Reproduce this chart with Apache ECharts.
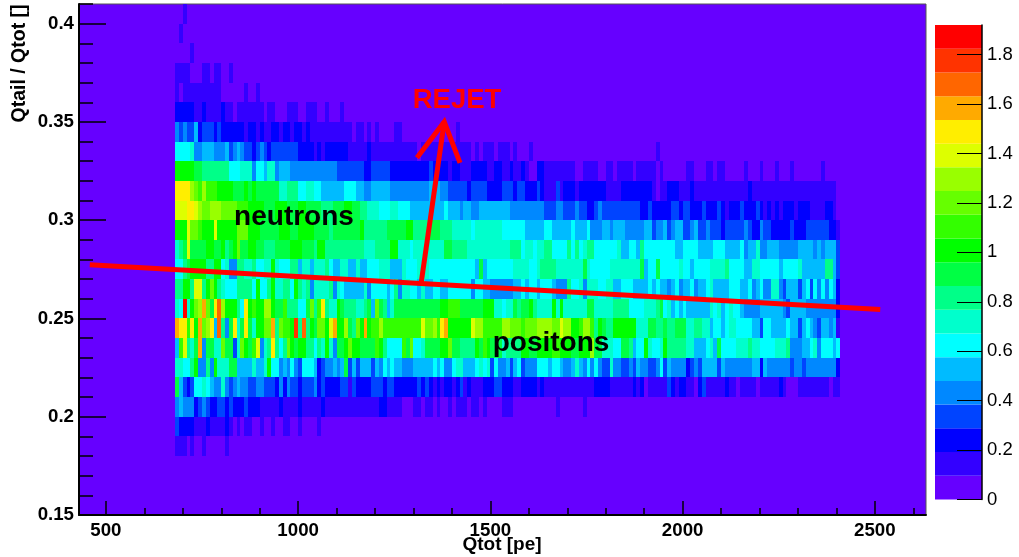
<!DOCTYPE html>
<html><head><meta charset="utf-8">
<script src="https://cdn.jsdelivr.net/npm/echarts@6/dist/echarts.min.js"></script>
<style>html,body{margin:0;padding:0;background:#fff}#c{width:1019px;height:557px}</style>
</head><body><div id="c"></div>
<script>
// Each row: pairs of [colour level, number of 10 pe bins], read by eye, starting at Qtot = 680
const row_040=[[0,2],[1,1]];
const row_039=[[0,1],[1,1]];
const row_038=[[0,4],[1,1]];
const row_037=[[1,4],[0,3],[1,2],[0,1],[1,2],[0,2],[1,1]];
const row_036=[[1,1],[0,1],[1,10],[0,6],[1,1],[0,2],[1,1]];
const row_035=[[2,5],[1,2],[2,1],[1,4],[2,1],[1,2],[0,1],[1,7],[0,1],[1,2],[0,3],[1,3],[0,2],[1,3],[0,2],[1,1],[0,3],[1,1]];
const row_034=[[4,1],[3,1],[4,1],[3,2],[5,1],[2,1],[3,3],[2,1],[3,1],[2,6],[1,1],[2,2],[1,1],[2,1],[1,2],[2,2],[1,1],[2,2],[1,1],[2,2],[1,1],[2,1],[1,11],[0,1],[1,2],[0,1],[1,1],[0,1],[1,1],[0,4],[1,2],[0,14],[1,1]];
const row_033=[[6,4],[7,1],[4,2],[5,3],[4,3],[5,1],[3,1],[4,1],[5,1],[4,1],[3,2],[2,1],[3,1],[4,1],[3,1],[2,1],[3,7],[2,4],[1,1],[2,1],[1,1],[2,5],[2,1],[1,5],[2,1],[1,12],[0,1],[1,13],[0,1],[1,1],[0,1],[1,3],[0,1],[1,3],[0,1],[1,1],[0,3],[1,1],[0,32],[1,1]];
const row_032=[[10,5],[9,2],[8,7],[6,3],[7,3],[4,1],[6,2],[5,1],[7,2],[4,1],[5,3],[4,12],[3,2],[3,5],[2,2],[3,5],[2,10],[3,1],[2,4],[1,1],[2,2],[1,3],[2,4],[1,2],[2,2],
 [1,2],[2,1],[1,2],[2,1],[1,1],[0,2],[2,2],[1,8],[0,2],[1,4],[0,2],[1,2],[0,1],[1,4],[0,1],[1,5],[0,1],[1,1],[0,6],[1,2],[0,3],[1,2],[0,1],[1,2],[0,5],[1,1],[0,3],[1,1],[0,3],[1,1],[0,3],[1,1],[0,7],[1,1]];
const row_031=[[15,4],[13,1],[12,1],[11,1],[13,1],[11,3],[10,4],[9,3],[10,1],[9,1],[10,1],[9,6],[7,2],[8,3],[6,2],[7,2],[6,2],[5,6],[6,3],[5,2],[4,2],[5,5],[4,7],[4,3],[5,3],[4,2],[3,5],[2,1],[3,4],[2,4],
 [3,3],[2,1],[3,2],[2,3],[3,1],[2,1],[1,3],[3,1],[1,1],[2,3],[1,1],[2,7],[1,4],[2,8],[1,1],[0,1],[1,2],[2,3],[1,3],[2,1],[1,14],[2,1],[1,22]];
const row_030=[[14,3],[15,2],[14,1],[13,1],[12,2],[13,3],[12,4],[11,3],[10,4],[9,3],[10,3],[9,3],[10,2],[9,4],[8,3],[9,3],[10,2],[9,2],[8,2],[7,3],[6,3],[7,2],[6,3],[5,5],[5,4],[6,1],[5,3],[4,1],[5,2],[4,2],[5,2],[5,4],
 [5,2],[4,9],[3,3],[4,2],[3,3],[4,1],[3,2],[2,2],[3,1],[4,1],[3,10],[2,2],[3,1],[2,5],[3,2],[2,1],[3,2],[2,3],[3,1],[2,3],[3,1],[2,1],[1,1],[2,3],[3,1],[2,3],[3,1],[2,1],[1,1],[2,1],[1,1],[2,1],[1,1],[2,3],[1,1],[2,3],[1,4],[2,2],[1,1]];
const row_029=[[10,3],[14,1],[12,2],[11,1],[10,3],[14,1],[10,5],[12,3],[10,3],[9,5],[10,3],[9,2],[10,4],[9,4],[8,1],[9,7],[10,1],[8,6],[9,5],[10,2],[8,4],[9,3],[8,3],[7,5],[6,1],[7,4],[7,3],
 [6,3],[6,3],[5,5],[6,2],[5,5],[6,1],[5,3],[6,1],[4,3],[5,2],[4,1],[5,3],[4,5],[5,2],[3,1],[4,2],[5,1],[3,1],[4,1],[5,2],[3,2],[4,1],[5,1],[3,2],[4,1],[3,3],[2,1],[3,5],[4,1],[3,1],[2,2],[4,1],[3,2],[2,5],[3,1],[2,3],[3,6],[2,2],[1,1]];
const row_028=[[7,1],[8,1],[9,1],[14,1],[9,4],[10,2],[9,2],[10,1],[8,1],[9,1],[10,1],[12,1],[9,2],[10,2],[9,2],[8,3],[9,4],[10,3],[9,3],[8,1],[10,2],[8,5],[8,5],[7,3],[8,4],[10,2],[7,3],[6,1],[7,4],[7,4],[9,2],[8,4],[7,5],[7,2],[7,2],
 [7,2],[8,3],[6,1],[7,2],[6,1],[7,2],[8,2],[6,4],[8,1],[6,1],[8,1],[6,1],[7,1],[8,2],[6,6],[7,1],[5,2],[6,2],[5,1],[8,1],[6,6],[6,2],[5,2],[6,4],[5,4],[6,1],[6,2],[5,4],[6,1],[4,1],[5,2],[7,1],[4,2],[5,3],[4,2],[4,3],[5,2],[5,2],[4,1],[5,1],[4,1],[5,3],[3,1]];
const row_027=[[6,2],[8,1],[9,1],[10,4],[8,2],[10,2],[6,1],[7,1],[4,2],[8,2],[7,2],[8,1],[6,2],[7,2],[10,1],[7,1],[6,3],[8,2],[5,1],[7,2],[5,1],[7,3],[8,1],[6,1],[5,2],[7,2],[5,2],[7,1],[5,2],[6,3],[7,3],[5,3],[7,1],[6,3],[7,3],[6,12],[5,1],[9,1],[5,1],[6,3],[6,1],
 [6,3],[7,1],[7,3],[6,2],[7,1],[8,4],[7,7],[9,1],[7,1],[6,3],[6,2],[7,2],[7,4],[7,2],[9,1],[5,1],[6,2],[9,1],[6,4],[6,1],[7,1],[6,2],[5,1],[6,4],[7,2],[7,2],[8,1],[6,2],[6,2],[5,2],[7,2],[6,5],[5,1],[6,4],[7,1],[5,1],[5,5],[8,2],[5,1],[3,1]];
const row_026=[[8,2],[10,2],[8,1],[14,2],[8,1],[10,1],[12,1],[10,1],[8,1],[7,1],[6,1],[6,2],[8,4],[6,1],[10,1],[6,2],[8,1],[10,1],[7,2],[8,2],[6,1],[10,1],[8,1],[7,1],[8,1],[4,1],[7,3],[7,1],[8,1],[4,1],[7,1],[6,1],[5,1],[5,4],[7,1],[4,1],[6,4],[5,1],[6,1],[8,1],[4,1],[7,2],[6,2],[5,1],[7,1],[5,2],[6,2],[5,2],[6,3],[6,3],[4,1],[6,2],[5,2],[4,3],
 [4,3],[5,2],[6,1],[5,1],[6,2],[5,1],[6,1],[6,2],[5,1],[4,1],[4,2],[8,1],[6,2],[7,1],[4,1],[7,3],[6,2],[7,2],[5,2],[6,3],[5,4],[6,1],[5,1],[6,1],[5,2],[4,1],[5,1],[6,1],[4,1],[5,2],[6,1],[4,1],[5,2],[6,1],[7,1],[5,1],[5,3],[6,3],[5,2],[6,1],[4,1],[5,1],[6,1],[4,2],[7,2],[4,1],[3,1],[5,3],[3,1],[5,1],[6,1],[3,1],[6,1],[4,1],[6,1],[4,1],[6,1],[5,1],[2,1]];
const row_025=[[7,1],[6,1],[19,1],[7,1],[10,1],[12,1],[13,1],[16,1],[12,1],[9,1],[15,1],[17,1],[13,1],[10,3],[8,1],[6,1],[15,1],[10,1],[11,1],[10,2],[13,2],[10,1],[9,2],[11,1],[8,3],[6,2],[9,1],[12,1],[8,1],[11,1],[15,1],[8,1],[7,2],[10,1],[9,1],[8,3],[7,2],[8,1],[9,1],[5,1],[12,1],[9,1],[8,1],[5,1],[7,1],[9,5],[9,3],[9,4],[10,2],[11,3],[9,4],[9,2],[10,3],[7,2],
 [6,1],[7,2],[9,1],[8,1],[9,2],[10,1],[8,1],[7,4],[10,1],[7,1],[10,1],[7,1],[7,5],[9,2],[7,5],[8,4],[6,4],[7,3],[8,1],[9,1],[6,1],[7,1],[5,1],[6,1],[5,1],[6,1],[5,6],[7,1],[6,1],[7,1],[5,1],[6,1],[7,1],[6,2],[5,1],[4,4],[5,1],[5,5],[4,1],[3,1],[5,4],[4,1],[4,6],[4,1],[2,1]];
const row_024=[[16,1],[15,2],[11,1],[15,1],[10,1],[16,1],[12,1],[13,1],[15,1],[5,1],[17,1],[8,1],[4,1],[9,1],[15,1],[7,1],[9,1],[15,1],[9,1],[7,1],[10,2],[12,2],[16,1],[8,1],[12,1],[11,2],[10,1],[18,1],[8,1],[17,1],[8,1],[10,1],[9,1],[12,2],[10,1],[14,1],[16,1],[10,2],[13,1],[9,1],[8,1],[12,1],[10,1],[16,1],[10,1],[11,2],[13,1],[11,3],[11,1],[11,6],[14,1],[12,2],[13,1],[11,1],[15,1],[16,1],[10,3],[10,3],[14,1],[13,2],[11,3],[11,2],
 [13,2],[12,3],[11,1],[12,2],[12,1],[13,4],[12,2],[14,1],[13,2],[10,2],[11,1],[13,2],[11,1],[8,1],[10,1],[9,1],[8,2],[10,2],[10,3],[10,1],[7,3],[9,2],[8,2],[9,1],[8,2],[9,3],[7,2],[8,2],[7,2],[5,1],[6,2],[5,1],[6,1],[7,2],[6,1],[6,3],[5,2],[3,1],[6,2],[5,2],[5,2],[6,1],[5,2],[3,1],[5,1],[6,1],[5,1],[4,1],[3,1],[5,2],[4,1],[5,1],[1,1]];
const row_023=[[5,1],[11,1],[14,1],[8,1],[7,1],[9,1],[16,1],[4,1],[9,2],[7,2],[12,1],[9,2],[3,1],[7,1],[12,1],[10,1],[9,1],[11,1],[14,1],[4,1],[7,1],[8,1],[15,1],[8,1],[6,1],[8,1],[12,1],[10,1],[9,1],[10,2],[8,2],[6,1],[8,1],[7,1],[10,1],[7,1],[4,1],[9,2],[10,1],[12,1],[10,2],[9,2],[9,2],[11,1],[10,1],[8,1],[6,2],[6,2],[11,1],[9,1],[12,1],[6,2],[7,1],[9,4],[10,2],[12,1],[9,2],[8,3],[8,1],[10,1],[9,1],[11,1],[10,1],[9,1],[9,2],
 [7,1],[8,4],[10,2],[9,2],[10,4],[11,2],[10,3],[9,2],[10,3],[13,1],[9,2],[7,3],[6,2],[9,2],[8,1],[5,1],[6,2],[10,1],[7,1],[6,2],[7,1],[10,1],[8,2],[8,3],[7,2],[5,1],[5,2],[6,1],[7,1],[5,1],[9,1],[6,2],[6,2],[7,2],[7,1],[8,1],[7,2],[6,2],[6,2],[7,2],[7,1],[8,1],[4,2],[4,1],[5,2],[6,1],[7,1],[4,1],[6,3],[5,1],[6,1]];
const row_022=[[7,2],[6,2],[8,1],[10,1],[4,2],[8,1],[4,1],[10,1],[7,3],[9,2],[5,4],[7,1],[5,2],[7,1],[10,1],[6,2],[4,1],[5,1],[4,1],[6,1],[4,1],[3,1],[6,1],[6,2],[5,1],[2,1],[3,1],[4,2],[5,1],[4,1],[5,1],[9,1],[3,1],[5,1],[3,1],[5,1],[5,2],[3,1],[5,1],[4,1],[6,1],[5,1],[6,1],[5,2],[4,2],[4,1],[5,5],[6,1],[5,1],[6,1],[4,2],[6,1],[7,2],[5,2],[5,1],[6,1],[7,1],[6,1],[7,1],[3,1],[6,1],[4,1],
 [4,1],[5,1],[3,1],[5,1],[6,1],[3,1],[4,3],[6,3],[5,1],[6,2],[5,1],[4,2],[5,1],[7,1],[5,1],[4,1],[6,1],[4,1],[6,1],[4,1],[3,2],[7,1],[4,2],[3,2],[4,1],[3,1],[5,1],[4,2],[3,2],[4,1],[6,1],[3,1],[5,1],[4,1],[4,3],[2,1],[3,1],[4,1],[3,1],[5,2],[5,2],[3,1],[5,1],[4,2],[4,5],[5,2],[2,1],[5,1],[4,1],[4,5],[3,1],[4,2],[3,1],[4,3],[4,3],[4,2],[2,1]];
const row_021=[[9,1],[5,1],[3,1],[2,1],[3,1],[6,2],[7,1],[6,1],[5,1],[4,2],[7,1],[4,1],[3,1],[4,1],[5,1],[4,2],[3,2],[4,2],[3,3],[2,1],[4,1],[2,1],[4,1],[3,2],[2,1],[3,3],[4,1],[2,1],[3,1],[2,4],[3,2],[1,1],[3,1],[2,4],[3,3],[2,1],[3,2],[2,6],[3,1],[2,1],[3,1],[2,1],[1,1],[2,1],[1,1],[2,2],[1,1],[2,1],[3,1],[1,1],[2,1],[1,3],[2,3],[3,2],
 [2,3],[1,2],[2,4],[1,1],[2,1],[1,6],[1,3],[1,1],[1,3],[2,4],[1,6],[2,1],[1,1],[2,1],[0,1],[1,5],[3,1],[2,1],[1,1],[2,2],[1,2],[0,1],[2,1],[3,1],[1,5],[2,1],[1,2],[0,1],[1,4],[0,1],[1,5],[2,1],[1,1],[0,3],[1,8],[0,1],[1,2]];
const row_020=[[4,1],[5,1],[4,3],[2,1],[3,1],[4,1],[3,1],[2,2],[3,2],[2,1],[3,1],[2,3],[3,1],[2,3],[1,3],[1,2],[2,1],[1,4],[2,1],[1,5],[2,1],[1,14],[2,2],[1,4],[0,3],[1,2],[0,1],[1,2],[0,1],[1,1],[0,2],[1,1],[0,1],[1,3],[0,1],[1,2],[0,1],[1,1],[0,4],
 [1,3],[0,11],[1,1],[0,6],[1,1]];
const row_019=[[3,1],[2,4],[1,2],[1,1],[2,1],[1,1],[1,3],[2,1],[1,1],[0,1],[1,1],[0,1],[1,2],[0,2],[1,1],[0,2],[1,1],[0,2],[1,2],[0,2],[1,1],[0,4],[1,1]];
const row_018=[[1,3],[0,1],[1,1],[0,2],[1,1],[0,5],[1,1]];

const rowsTopDown=[row_040,row_039,row_038,row_037,row_036,row_035,row_034,row_033,row_032,row_031,row_030,row_029,row_028,row_027,row_026,row_025,row_024,row_023,row_022,row_021,row_020,row_019,row_018];
const palette=['#6600ff','#3300ff','#0000ff','#0044ff','#0088ff','#00bbff','#00ffff','#00ffcc','#00ff88','#00ff44','#00ff00','#33ff00','#66ff00','#99ff00','#ddff00','#ffee00','#ffaa00','#ff6600','#ff3300','#ff0000'];
const levelStep=0.096;
const xMajor=[500,1000,1500,2000,2500];
const xMinor=[500,600,700,800,900,1000,1100,1200,1300,1400,1500,1600,1700,1800,1900,2000,2100,2200,2300,2400,2500,2600];
const yMajor=[0.15,0.2,0.25,0.3,0.35,0.4];
const yMinor=[0.16,0.17,0.18,0.19,0.21,0.22,0.23,0.24,0.26,0.27,0.28,0.29,0.31,0.32,0.33,0.34,0.36,0.37,0.38,0.39,0.41];
const zTicks=[0,0.2,0.4,0.6,0.8,1,1.2,1.4,1.6,1.8];
const cutLine=[[458,0.2773],[2514,0.2546]];
const arrowShaft=[[1320,0.2681],[1380,0.3501]];
const arrowHead=[[1309,0.3318],[1380,0.3501],[1421,0.3292]];

const cells=[];
rowsTopDown.forEach((runs,r)=>{
  const y=0.40-r*0.01; let c=0;
  runs.forEach(([lvl,n])=>{
    for(let i=0;i<n;i++,c++){ if(lvl>0&&c<173) cells.push([680+c*10,y,(lvl+0.5)*levelStep]); }
  });
});
const font='"Liberation Sans",Arial,sans-serif';
const plain=(v)=>String(v);
const lbl={color:'#000',fontFamily:font,fontWeight:'bold',fontSize:18.7,formatter:plain};
const redLine=(d)=>({type:'line',data:d,xAxisIndex:0,yAxisIndex:0,symbol:'none',silent:true,z:5,lineStyle:{color:'#ff0000',width:5,cap:'butt',join:'miter'}});
const option={
  animation:false,
  grid:[
    {left:79,right:93,top:4,bottom:42,show:true,backgroundColor:'#6600ff',borderColor:'#555',borderWidth:1},
    {left:935,right:37,top:25,bottom:57.5}
  ],
  xAxis:[
    {gridIndex:0,type:'value',min:430,max:2633,position:'bottom',splitLine:{show:false},
      axisLine:{show:true,onZero:false,lineStyle:{color:'#000',width:2}},
      axisTick:{show:true,inside:true,length:14,customValues:xMajor,lineStyle:{color:'#000',width:1.5}},
      axisLabel:{...lbl,margin:6,customValues:xMajor}},
    {gridIndex:0,type:'value',min:430,max:2633,position:'bottom',splitLine:{show:false},
      axisLine:{show:false},
      axisTick:{show:true,inside:true,length:7,customValues:xMinor,lineStyle:{color:'#000',width:1.5}},
      axisLabel:{show:false}},
    {gridIndex:1,type:'category',data:['z'],show:false}
  ],
  yAxis:[
    {gridIndex:0,type:'value',min:0.15,max:0.41,position:'left',splitLine:{show:false},
      axisLine:{show:true,onZero:false,lineStyle:{color:'#000',width:2}},
      axisTick:{show:true,inside:true,length:27,customValues:yMajor,lineStyle:{color:'#000',width:1.5}},
      axisLabel:{...lbl,margin:5,padding:[5,0,0,0],customValues:yMajor}},
    {gridIndex:0,type:'value',min:0.15,max:0.41,position:'left',splitLine:{show:false},
      axisLine:{show:false},
      axisTick:{show:true,inside:true,length:14,customValues:yMinor,lineStyle:{color:'#000',width:1.5}},
      axisLabel:{show:false}},
    {gridIndex:1,type:'value',min:0,max:1.92,position:'right',splitLine:{show:false},z:5,
      axisLine:{show:true,onZero:false,lineStyle:{color:'#000',width:1.5}},
      axisTick:{show:true,inside:true,length:25,customValues:zTicks,lineStyle:{color:'#000',width:1}},
      axisLabel:{color:'#000',fontFamily:font,fontSize:18.5,margin:5,padding:[7,0,0,0],formatter:plain,customValues:zTicks}}
  ],
  series:[
    {type:'custom',xAxisIndex:0,yAxisIndex:0,data:cells,encode:{x:0,y:1},silent:true,z:1,
     renderItem:(params,api)=>{
       const x=api.value(0),y=api.value(1),v=api.value(2);
       const a=api.coord([x,y]),b=api.coord([x+10,y+0.01]);
       const lvl=Math.min(19,Math.floor(v/levelStep));
       const l=Math.round(a[0]),r=Math.round(b[0]),t=Math.round(b[1]),bt=Math.round(a[1]);
       return {type:'rect',shape:{x:l,y:t,width:r-l,height:bt-t},style:{fill:palette[lvl]}};
     }},
    redLine(cutLine),redLine(arrowShaft),redLine(arrowHead),
    ...palette.map((col)=>({type:'bar',xAxisIndex:2,yAxisIndex:2,stack:'z',barWidth:'100%',silent:true,data:[levelStep],itemStyle:{color:col}}))
  ],
  graphic:[
    {type:'text',z:100,silent:true,x:502,y:545,style:{text:'Qtot [pe]',fill:'#000',font:'bold 19px '+font,align:'center',verticalAlign:'middle'}},
    {type:'text',z:100,silent:true,x:20,y:63.5,rotation:Math.PI/2,style:{text:'Qtail / Qtot []',fill:'#000',font:'bold 19.5px '+font,align:'center',verticalAlign:'middle'}},
    {type:'text',z:100,silent:true,x:294,y:217.5,style:{text:'neutrons',fill:'#000',font:'bold 28px '+font,align:'center',verticalAlign:'middle'}},
    {type:'text',z:100,silent:true,x:551,y:343,style:{text:'positons',fill:'#000',font:'bold 28px '+font,align:'center',verticalAlign:'middle'}},
    {type:'text',z:100,silent:true,x:457,y:100.5,style:{text:'REJET',fill:'#ff0000',font:'bold 27.5px '+font,align:'center',verticalAlign:'middle'}}
  ]
};
echarts.init(document.getElementById('c'),null,{renderer:'canvas'}).setOption(option);
</script>
</body></html>
